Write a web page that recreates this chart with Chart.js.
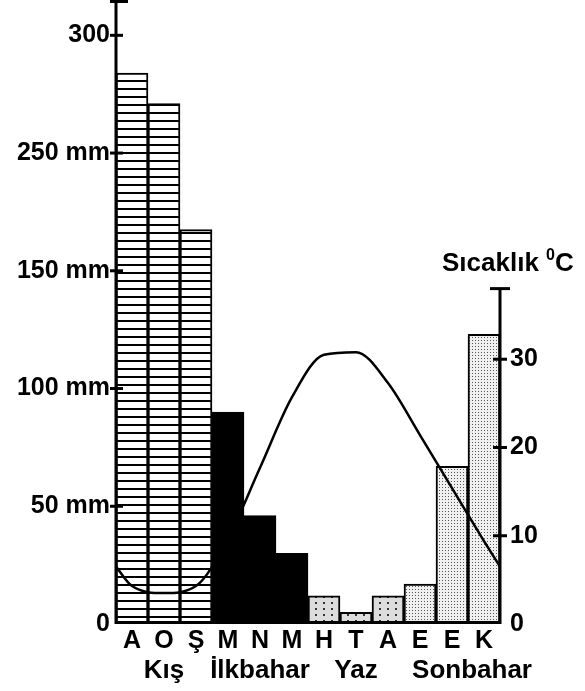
<!DOCTYPE html>
<html>
<head>
<meta charset="utf-8">
<script src="https://cdn.jsdelivr.net/npm/chart.js@4/dist/chart.umd.min.js"></script>
<style>
  html, body { margin: 0; padding: 0; background: #fff; }
  #wrap { width: 585px; height: 691px; position: relative; }
</style>
</head>
<body>
<div id="wrap"><canvas id="chart"></canvas></div>
<script>
// months (Aralık .. Kasım) and seasons
const months = ['A', 'O', 'Ş', 'M', 'N', 'M', 'H', 'T', 'A', 'E', 'E', 'K'];
const seasons = ['Kış', 'İlkbahar', 'Yaz', 'Sonbahar'];

// precipitation in mm (left axis, broken scale)
const precipMm = [284, 271, 185, 90, 46, 30, 12, 5, 12, 17, 67, 123];
const mmTicks = [0, 50, 100, 150, 250, 300];
const mmTickLabels = ['0', '50 mm', '100 mm', '150 mm', '250 mm', '300'];

// temperature in °C at month centres, plus value at the year boundary
const tempC = [4.3, 3.5, 4.3, 9.7, 17.7, 25.7, 30.5, 30.8, 27.3, 21.4, 15.4, 9.4];
const tempEdge = 6.5;
const tempTicks = [0, 10, 20, 30];

const FONT = "'Liberation Sans', Arial, sans-serif";

// left axis: equal spacing between the tick values
function mmToAxis(v) {
  for (let k = 0; k < mmTicks.length - 1; k++) {
    if (v <= mmTicks[k + 1]) return k + (v - mmTicks[k]) / (mmTicks[k + 1] - mmTicks[k]);
  }
  return mmTicks.length - 1;
}

function makePattern(w, h, draw) {
  const c = document.createElement('canvas');
  c.width = w; c.height = h;
  const g = c.getContext('2d');
  draw(g);
  return g.createPattern(c, 'repeat');
}

const winterFill = makePattern(8, 8, g => {
  g.fillStyle = '#fff'; g.fillRect(0, 0, 8, 8);
  g.fillStyle = '#000'; g.fillRect(0, 0, 8, 2);
});
const springFill = '#000';
const summerFill = makePattern(8, 6, g => {
  g.fillStyle = '#dcdcdc'; g.fillRect(0, 0, 8, 6);
  g.fillStyle = '#333'; g.fillRect(3, 2, 2, 2);
});
const autumnFill = makePattern(3, 3, g => {
  g.fillStyle = '#f0f0f0'; g.fillRect(0, 0, 3, 3);
  g.fillStyle = '#555'; g.fillRect(1, 1, 1, 1);
});
const seasonFills = [winterFill, springFill, summerFill, autumnFill];

const axisDecor = {
  id: 'axisDecor',
  afterDatasetsDraw(chart, args, opts) {
    const { ctx, chartArea: a, scales } = chart;
    const yl = scales.y, yr = scales.yT, x = scales.x;
    const seg = (x1, y1, x2, y2) => { ctx.beginPath(); ctx.moveTo(x1, y1); ctx.lineTo(x2, y2); ctx.stroke(); };
    ctx.save();
    ctx.strokeStyle = '#000';
    ctx.lineWidth = 3;

    // baseline
    seg(a.left, a.bottom - 1.5, a.right, a.bottom - 1.5);

    // left axis with cap and crossing ticks
    seg(a.left, a.top, a.left, a.bottom);
    seg(a.left - 6, a.top + 1.5, a.left + 12, a.top + 1.5);
    yl.ticks.forEach(t => {
      const y = yl.getPixelForValue(t.value);
      if (t.value > 0) seg(a.left - 6, y, a.left + 7, y);
    });

    // right axis, shorter, with cap
    const topY = yr.getPixelForValue(opts.tempAxisTop);
    seg(a.right, topY, a.right, a.bottom);
    seg(a.right - 10, topY, a.right + 10, topY);
    yr.ticks.forEach(t => {
      const y = yr.getPixelForValue(t.value);
      if (t.value > 0) seg(a.right - 7, y, a.right + 7, y);
    });

    // season names under the months
    ctx.fillStyle = '#000';
    ctx.font = 'bold 26px ' + FONT;
    ctx.textAlign = 'center';
    ctx.textBaseline = 'alphabetic';
    seasons.forEach((s, i) => {
      const cx = x.getPixelForValue(i * 3 + 1.5) + (i === 3 ? 20 : 0);
      ctx.fillText(s, cx, 678);
    });

    // temperature axis title
    ctx.textAlign = 'left';
    const tx = 442, ty = 271;
    const main = 'Sıcaklık ';
    ctx.fillText(main, tx, ty);
    let w = ctx.measureText(main).width;
    ctx.font = 'bold 16px ' + FONT;
    ctx.fillText('0', tx + w, ty - 11);
    w += ctx.measureText('0').width;
    ctx.font = 'bold 26px ' + FONT;
    ctx.fillText('C', tx + w, ty);
    ctx.restore();
  }
};

function fixBox(size, horizontal) {
  return scale => {
    if (horizontal) scale.height = size; else scale.width = size;
    scale.paddingTop = 0; scale.paddingBottom = 0;
    scale.paddingLeft = 0; scale.paddingRight = 0;
  };
}

new Chart(document.getElementById('chart'), {
  type: 'bar',
  data: {
    datasets: [
      {
        type: 'line',
        order: 0,
        yAxisID: 'yT',
        data: [{ x: 0, y: tempEdge }]
          .concat(tempC.map((t, i) => ({ x: i + 0.5, y: t })))
          .concat([{ x: months.length, y: tempEdge }]),
        borderColor: '#000',
        borderWidth: 2.5,
        pointRadius: 0,
        cubicInterpolationMode: 'monotone',
        fill: false
      },
      {
        type: 'bar',
        order: 1,
        yAxisID: 'y',
        data: precipMm.map((v, i) => ({ x: i + 0.5, y: mmToAxis(v) })),
        backgroundColor: months.map((m, i) => seasonFills[Math.floor(i / 3)]),
        borderColor: '#000',
        borderWidth: 2,
        borderSkipped: false,
        barPercentage: 1,
        categoryPercentage: 1
      }
    ]
  },
  options: {
    responsive: true,
    maintainAspectRatio: false,
    animation: false,
    layout: { padding: 0 },
    plugins: {
      legend: { display: false },
      tooltip: { enabled: false },
      axisDecor: { tempAxisTop: 38 }
    },
    scales: {
      x: {
        type: 'linear',
        min: 0,
        max: months.length,
        offset: false,
        grid: { display: false, drawTicks: false },
        border: { display: false },
        afterBuildTicks: s => { s.ticks = months.map((m, i) => ({ value: i + 0.5 })); },
        afterFit: fixBox(67, true),
        ticks: {
          autoSkip: false,
          maxRotation: 0,
          padding: 2,
          color: '#000',
          font: { family: FONT, size: 25, weight: 'bold' },
          callback: (v, i) => months[i]
        }
      },
      y: {
        type: 'linear',
        position: 'left',
        min: 0,
        max: 5.3,
        grid: { display: false, drawTicks: false },
        border: { display: false },
        afterBuildTicks: s => { s.ticks = mmTicks.map((m, i) => ({ value: i })); },
        afterFit: fixBox(116, false),
        ticks: {
          padding: 6,
          color: '#000',
          font: { family: FONT, size: 25, weight: 'bold' },
          callback: (v, i) => mmTickLabels[i]
        }
      },
      yT: {
        type: 'linear',
        position: 'right',
        min: 0,
        max: 70.7,
        grid: { display: false, drawTicks: false },
        border: { display: false },
        afterBuildTicks: s => { s.ticks = tempTicks.map(t => ({ value: t })); },
        afterFit: fixBox(85, false),
        ticks: {
          padding: 10,
          color: '#000',
          font: { family: FONT, size: 25, weight: 'bold' },
          callback: v => String(v)
        }
      }
    }
  },
  plugins: [axisDecor]
});
</script>
</body>
</html>
